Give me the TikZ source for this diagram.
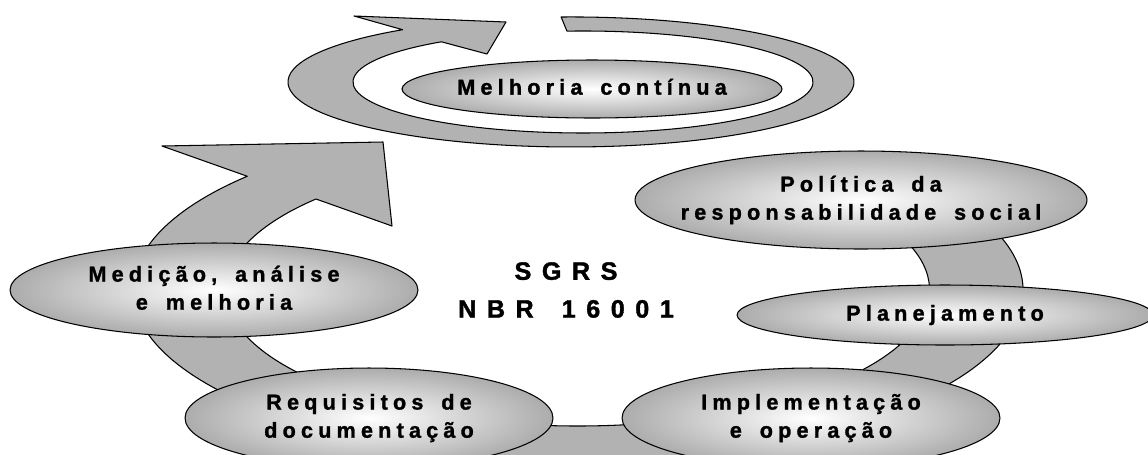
\documentclass[tikz,border=0pt]{standalone}
\usepackage{fontspec}
\setmainfont{Liberation Sans}
\newfontfamily\ovalfont{Liberation Sans}[LetterSpace=24, WordSpace=1.6, BoldFont={Liberation Sans Bold}, BoldFeatures={FakeBold=1.3}]
\newfontfamily\sgrsfont{Liberation Sans}[LetterSpace=42, WordSpace=1.6, BoldFont={Liberation Sans Bold}, BoldFeatures={FakeBold=1.5}]
\usetikzlibrary{shapes.geometric}
\definecolor{ringgray}{RGB}{178,178,178}
\definecolor{ovalgray}{RGB}{172,172,172}
\newcommand{\ovallabel}[1]{\makebox[0pt]{\begin{tabular}{@{}c@{}}#1\end{tabular}}}

\begin{document}
\begin{tikzpicture}[
    x=0.02cm, y=-0.02cm,
    ring/.style={fill=ringgray, draw=black, line width=0.6pt, line join=round},
    oval/.style={ellipse, draw=black, line width=0.6pt, inner sep=0pt,
        shading=radial, inner color=white, outer color=ovalgray,
        font=\ovalfont\bfseries\fontsize{12.3}{16}\selectfont}
]
\useasboundingbox (0,0) rectangle (1148,454);

\draw[ring] (942.5,192.5) arc[start angle=-35, end angle=222, x radius=445, y radius=170]
    -- (162,146) -- (383,142) -- (392,226) -- (316,199)
    arc[start angle=222, end angle=-35, x radius=352, y radius=136] -- cycle;

\draw[ring] (561.1,17) arc[start angle=-92, end angle=233.5, x radius=283, y radius=65]
    -- (354,16) -- (506,22) -- (487,54) -- (441.4,41.8)
    arc[start angle=232, end angle=-94, x radius=230, y radius=51] -- cycle;

\node[oval, minimum width=7.6cm, minimum height=1.16cm] (melhoria) at (592,89)
    {\ovallabel{Melhoria contínua}};
\node[oval, minimum width=9.04cm, minimum height=1.96cm] (politica) at (861,200)
    {\ovallabel{Política da\\responsabilidade social}};
\node[oval, minimum width=8.32cm, minimum height=1.2cm] (planejamento) at (945,315)
    {\ovallabel{Planejamento}};
\node[oval, minimum width=7.56cm, minimum height=2cm] (implementacao) at (811,418)
    {\ovallabel{Implementação\\e operação}};
\node[oval, minimum width=7.36cm, minimum height=2cm] (requisitos) at (369,418)
    {\ovallabel{Requisitos de\\documentação}};
\node[oval, minimum width=8.16cm, minimum height=1.88cm] (medicao) at (214,290)
    {\ovallabel{Medição, análise\\e melhoria}};

\node[font=\sgrsfont\bfseries\fontsize{14.3}{21.5}\selectfont, align=center] (sgrs)
    at (566,290) {SGRS\\NBR 16001};
\end{tikzpicture}
\end{document}
